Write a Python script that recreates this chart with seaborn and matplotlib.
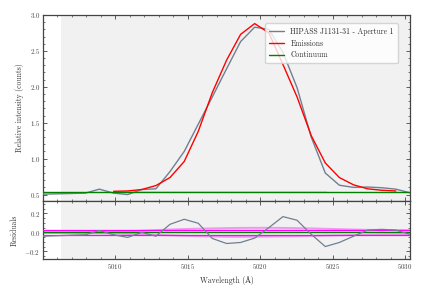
import numpy as np
import pandas as pd
import seaborn as sns
import matplotlib.pyplot as plt
from matplotlib.ticker import AutoMinorLocator, MultipleLocator

# spectrum channels (Angstrom)
wave = [5005.03, 5006.00, 5006.98, 5007.95, 5008.92, 5009.90, 5010.87, 5011.84, 5012.82,
        5013.79, 5014.77, 5015.74, 5016.71, 5017.69, 5018.66, 5019.63, 5020.61, 5021.58,
        5022.55, 5023.53, 5024.50, 5025.47, 5026.45, 5027.42, 5028.39, 5029.37, 5030.34]
spectrum = [0.505, 0.510, 0.515, 0.520, 0.575, 0.520, 0.500, 0.570, 0.580,
            0.820, 1.100, 1.480, 1.860, 2.250, 2.630, 2.830, 2.800, 2.480,
            1.990, 1.300, 0.800, 0.630, 0.600, 0.605, 0.595, 0.575, 0.525]
# emission model (continuum included), defined on channels 5..25
emission = [0.545, 0.550, 0.570, 0.625, 0.737, 0.960, 1.380, 1.920, 2.370, 2.730, 2.880,
            2.750, 2.310, 1.860, 1.320, 0.940, 0.737, 0.635, 0.580, 0.560, 0.550]
continuum = 0.54

residuals = [-0.040, -0.035, -0.030, -0.025, 0.020, -0.025, -0.053, 0.000, -0.040,
             0.085, 0.138, 0.096, -0.064, -0.117, -0.106, -0.060, 0.050, 0.166,
             0.128, -0.020, -0.149, -0.106, -0.040, 0.024, 0.032, 0.024, -0.020]
noise = 0.025
err_hi = [0.003, 0.003, 0.003, 0.004, 0.005, 0.008, 0.012, 0.018, 0.024, 0.030, 0.035, 0.039,
          0.042, 0.045, 0.047, 0.048, 0.048, 0.047, 0.045, 0.042, 0.038, 0.034, 0.030, 0.027,
          0.025, 0.024, 0.023]
err_lo = [-0.006, -0.007, -0.008, -0.009, -0.010, -0.012, -0.016, -0.021, -0.026, -0.031, -0.036,
          -0.040, -0.043, -0.046, -0.047, -0.046, -0.044, -0.042, -0.040, -0.037, -0.034, -0.031,
          -0.028, -0.025, -0.023, -0.021, -0.020]

sns.set_style("ticks")
plt.rcParams.update({
    "font.size": 5.5,
    "axes.labelsize": 5.5,
    "xtick.labelsize": 5,
    "ytick.labelsize": 5,
    "legend.fontsize": 5.5,
    "axes.formatter.use_mathtext": True,
    "mathtext.fontset": "cm",
    "xtick.direction": "in",
    "ytick.direction": "in",
    "xtick.top": True,
    "ytick.right": True,
    "axes.edgecolor": "#444444",
    "xtick.color": "#444444",
    "ytick.color": "#444444",
    "text.color": "#333333",
    "axes.labelcolor": "#333333",
})
plt.rcParams["font.family"] = ["cmr10", "DejaVu Serif"]

df = pd.DataFrame({"wave": wave, "flux": spectrum, "resid": residuals,
                   "hi": err_hi, "lo": err_lo})
df_em = pd.DataFrame({"wave": wave[5:26], "flux": emission})

fig = plt.figure(figsize=(4.32, 2.88), dpi=100)
ax = fig.add_axes([0.0995, 0.302, 0.8495, 0.646])
axr = fig.add_axes([0.0995, 0.1007, 0.8495, 0.2013], sharex=ax)

for a in (ax, axr):
    a.axvspan(5006.3, 5031, color="#f1f1f1", zorder=0, lw=0)

sns.lineplot(data=df, x="wave", y="flux", ax=ax, color="slategray", lw=1,
             sort=False, estimator=None, label="HIPASS J1131-31 - Aperture 1", zorder=3)
sns.lineplot(data=df_em, x="wave", y="flux", ax=ax, color="red", lw=1,
             sort=False, estimator=None, label="Emissions", zorder=4)
ax.axhline(continuum + 0.006, xmin=0.19, xmax=0.77, color="lightgreen", lw=0.8, alpha=0.6, zorder=2)
ax.axhline(continuum, color="green", lw=1, label="Continuum", zorder=5)

axr.axhline(noise, color="magenta", lw=0.9, zorder=3)
axr.axhline(-noise, color="magenta", lw=0.9, zorder=3)
sns.lineplot(data=df, x="wave", y="hi", ax=axr, color="violet", lw=1.4, alpha=0.8,
             sort=False, estimator=None, zorder=2)
sns.lineplot(data=df, x="wave", y="lo", ax=axr, color="violet", lw=1.4, alpha=0.8,
             sort=False, estimator=None, zorder=2)
axr.axhline(0, color="green", lw=1, zorder=4)
sns.lineplot(data=df, x="wave", y="resid", ax=axr, color="slategray", lw=0.9,
             sort=False, estimator=None, zorder=5)

ax.set_xlim(5005.03, 5030.34)
ax.set_ylim(0.41, 3.0)
axr.set_ylim(-0.28, 0.33)

ax.xaxis.set_major_locator(MultipleLocator(5))
ax.xaxis.set_minor_locator(AutoMinorLocator(5))
ax.yaxis.set_major_locator(MultipleLocator(0.5))
ax.yaxis.set_minor_locator(AutoMinorLocator(5))
axr.yaxis.set_major_locator(MultipleLocator(0.2))
axr.yaxis.set_minor_locator(AutoMinorLocator(4))

for a in (ax, axr):
    a.tick_params(which="major", length=3, width=0.6, pad=2)
    a.tick_params(which="minor", length=1.5, width=0.5)
    for s in a.spines.values():
        s.set_linewidth(0.9)
ax.tick_params(labelbottom=False)

ax.set_xlabel("")
ax.set_ylabel("Relative intensity (counts)")
axr.set_ylabel("Residuals")
axr.set_xlabel("Wavelength (Å)")

ax.legend(loc="upper left", bbox_to_anchor=(0.595, 0.975), frameon=True,
          handlelength=2.0, borderpad=0.5, labelspacing=0.45)

fig.savefig("out.png", dpi=100)
